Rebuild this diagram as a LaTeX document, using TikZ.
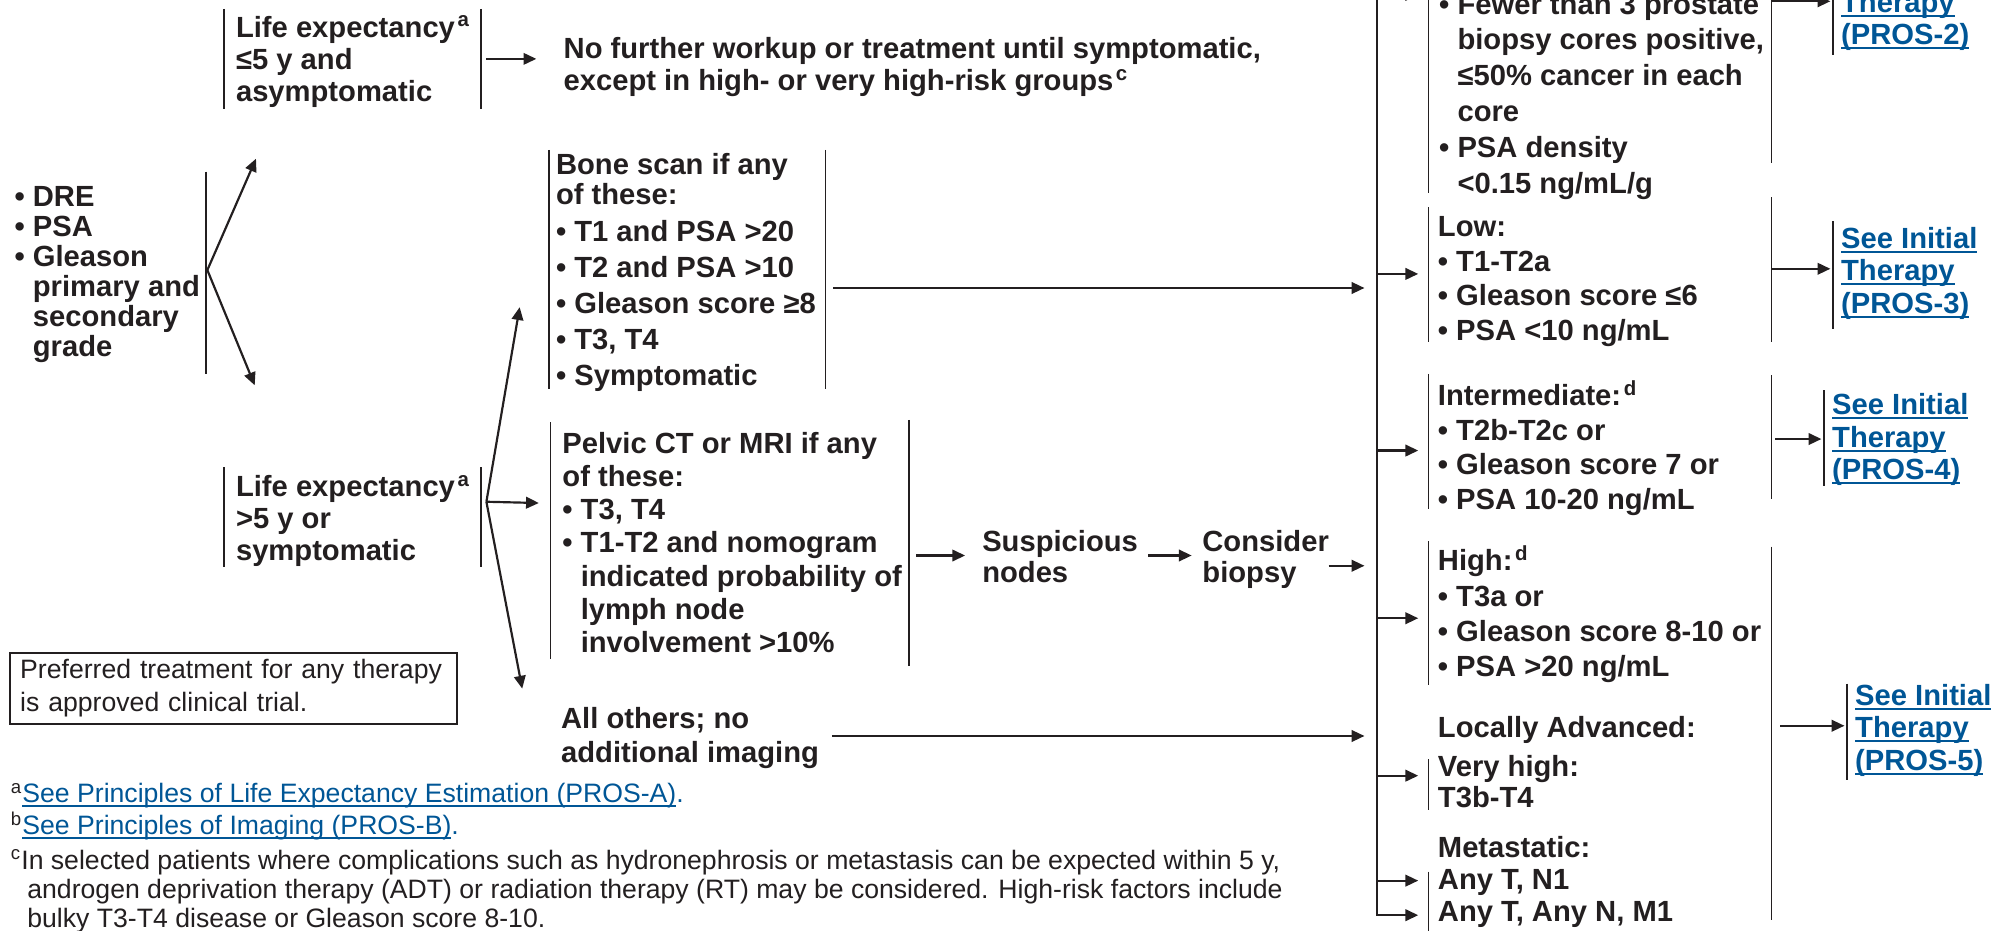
\documentclass[tikz,border=0pt]{standalone}
\usepackage{fontspec}
\setmainfont{Liberation Sans}
\usepackage{xcolor}
\usetikzlibrary{arrows.meta}
\definecolor{ink}{RGB}{35,31,32}
\definecolor{linkblue}{RGB}{0,86,150}

\newcommand\bul{\textbullet\ }
\newcommand\ind{\phantom{\textbullet\ }}
\newsavebox\lnkbox
% underlined link text, one line
\newcommand\lnk[1]{{\color{linkblue}\sbox\lnkbox{#1}\rlap{\rule[-1.7pt]{\wd\lnkbox}{0.75pt}}\usebox\lnkbox}}
\newcommand\flnk[1]{{\color{linkblue}\sbox\lnkbox{#1}\rlap{\rule[-1.6pt]{\wd\lnkbox}{0.55pt}}\usebox\lnkbox}}

% nodes are placed at the baseline of their last line
\tikzset{
  body/.style={anchor=base west, align=left, inner sep=0pt, text=ink,
    font=\fontsize{11.4pt}{#1pt}\selectfont\bfseries},
  body/.default=13.5,
  note/.style={anchor=base west, align=left, inner sep=0pt, text=ink,
    font=\fontsize{10.4pt}{#1pt}\selectfont},
  note/.default=11.5,
  seelink/.style={body=12.75},
  arr/.style={draw=ink, line width=0.85pt, -{Triangle[length=5pt,width=4.5pt]}},
  bar/.style={draw=ink, line width=0.65pt},
}

\begin{document}
\begin{tikzpicture}[x=0.5pt,y=-0.5pt]
\useasboundingbox (0,0) rectangle (1568,727);
\clip (0,0) rectangle (1568,727);

% left: workup
\node[body=11.75] (exam) at (11,278.5) {\bul DRE\\ \bul PSA\\ \bul Gleason\\ \ind primary and\\ \ind secondary\\ \ind grade};
\node[body=12.5] (leshort) at (184,79) {Life expectancy\hspace{1pt}\textsuperscript{a}\\ ≤5 y and\\ asymptomatic};
\node[body=12.5] (nowork) at (440,71) {No further workup or treatment until symptomatic,\\ except in high- or very high-risk groups\hspace{1pt}\textsuperscript{c}};
\node[body=12.5] (lelong) at (184,438) {Life expectancy\hspace{1pt}\textsuperscript{a}\\ >5 y or\\ symptomatic};

% imaging
\node[body=12] (bone) at (434,301) {Bone scan if any\\ of these:\\[2.5pt] \bul T1 and PSA >20\\[2pt] \bul T2 and PSA >10\\[2pt] \bul Gleason score ≥8\\[2pt] \bul T3, T4\\[2pt] \bul Symptomatic};
\node[body=13] (pelvic) at (439,510) {Pelvic CT or MRI if any\\ of these:\\ \bul T3, T4\\ \bul T1-T2 and nomogram\\ \ind indicated probability of\\ \ind lymph node\\ \ind involvement >10\%};
\node[body=12] (susp) at (767,455) {Suspicious\\ nodes};
\node[body=12] (biopsy) at (939,455) {Consider\\ biopsy};
\node[body=13.5] (others) at (438,596) {All others; no\\ additional imaging};

\node[draw=ink, line width=0.8pt, anchor=north west, inner xsep=4pt, inner ysep=0pt,
  minimum height=28pt, text width=166.5pt, align=left, text=ink,
  font=\fontsize{10.4pt}{13pt}\selectfont] (pref) at (7,509) {Preferred treatment for any therapy\\ is approved clinical trial.};

% footnotes
\node[note] (fna) at (8,627) {\textsuperscript{a}\flnk{See Principles of Life Expectancy Estimation (PROS-A)}{\color{linkblue}.}};
\node[note] (fnb) at (8,652) {\textsuperscript{b}\flnk{See Principles of Imaging (PROS-B)}{\color{linkblue}.}};
\node[note] (fnc) at (8,725) {\textsuperscript{c}In selected patients where complications such as hydronephrosis or metastasis can be expected within 5 y,\\ \hspace*{6.5pt}androgen deprivation therapy (ADT) or radiation therapy (RT) may be considered. High-risk factors include\\ \hspace*{6.5pt}bulky T3-T4 disease or Gleason score 8-10.};

% right: risk groups
\node[body=14] (vlow) at (1124,151) {\bul Fewer than 3 prostate\\ \ind biopsy cores positive,\\ \ind ≤50\% cancer in each\\ \ind core\\ \bul PSA density\\ \ind <0.15 ng/mL/g};
\node[body] (low) at (1123,266) {Low:\\ \bul T1-T2a\\ \bul Gleason score ≤6\\ \bul PSA <10 ng/mL};
\node[body] (inter) at (1123,398) {Intermediate:\hspace{1pt}\textsuperscript{d}\\ \bul T2b-T2c or\\ \bul Gleason score 7 or\\ \bul PSA 10-20 ng/mL};
\node[body=13.75] (high) at (1123,528.5) {High:\hspace{1pt}\textsuperscript{d}\\ \bul T3a or\\ \bul Gleason score 8-10 or\\ \bul PSA >20 ng/mL};
\node[body] (locadv) at (1123,576) {Locally Advanced:};
\node[body=12] (vhigh) at (1123,631) {Very high:\\ T3b-T4};
\node[body] (metast) at (1123,670) {Metastatic:};
\node[body=12.5] (anyt) at (1123,720) {Any T, N1\\ Any T, Any N, M1};

\node[seelink] (pros2) at (1438,35) {\lnk{See Initial}\\ \lnk{Therapy}\\ \lnk{(PROS-2)}};
\node[seelink] (pros3) at (1438,245) {\lnk{See Initial}\\ \lnk{Therapy}\\ \lnk{(PROS-3)}};
\node[seelink] (pros4) at (1431,375) {\lnk{See Initial}\\ \lnk{Therapy}\\ \lnk{(PROS-4)}};
\node[seelink] (pros5) at (1449,602) {\lnk{See Initial}\\ \lnk{Therapy}\\ \lnk{(PROS-5)}};

% side bars of the boxes
\foreach \x/\ya/\yb in {161/134/292, 175/7/85, 376/7/85, 175/365/443, 376/365/443,
    429/117/304, 645/117/304, 430/330/515, 710/328/520,
    1116/-5/151, 1384/-5/127, 1116/162/267, 1384/154/267,
    1116/292/398, 1384/293/390, 1116/423/535, 1384/427/719,
    1116/593/633, 1116/681/730,
    1432/-5/43, 1432/173/257, 1425/305/380, 1443/534/609}
  \draw[bar] (\x,\ya) -- (\x,\yb);

% connector ends
\coordinate (examfork) at (162,211);
\coordinate (toshort) at (200,124);
\coordinate (tolong) at (199,301);
\coordinate (shortout) at (380,46);
\coordinate (toworkup) at (419,46);
\coordinate (longfork) at (380,392);
\coordinate (tobone) at (406,240);
\coordinate (topelvic) at (421,393);
\coordinate (toothers) at (408,538);
\coordinate (boneout) at (651,225);
\coordinate (pelvicout) at (716,434);
\coordinate (tosusp) at (754,434);
\coordinate (suspout) at (897,434);
\coordinate (tobiopsy) at (931,434);
\coordinate (biopsyout) at (1038,442);
\coordinate (othersout) at (650,575);
\coordinate (trunktop) at (1076,-10);
\coordinate (tom1) at (1108,715);

\draw[arr] (examfork) -- (toshort);
\draw[arr] (examfork) -- (tolong);
\draw[arr] (shortout) -- (toworkup);
\draw[arr] (longfork) -- (tobone);
\draw[arr] (longfork) -- (topelvic);
\draw[arr] (longfork) -- (toothers);
\draw[arr] (pelvicout) -- (tosusp);
\draw[arr] (suspout) -- (tobiopsy);

% into the risk groups
\draw[arr] (boneout) -- (1066,225);
\draw[arr] (biopsyout) -- (1066,442);
\draw[arr] (othersout) -- (1066,575);
\draw[arr] (trunktop) |- (tom1);
\foreach \y in {-4,214,352,483,606,688}
  \draw[arr] (1076,\y) -- (1108,\y);

% to initial therapy
\draw[arr] (1384,1) -- (1430,1);
\draw[arr] (1384,210) -- (1430,210);
\draw[arr] (1387,343) -- (1423,343);
\draw[arr] (1391,567) -- (1441,567);
\end{tikzpicture}
\end{document}
